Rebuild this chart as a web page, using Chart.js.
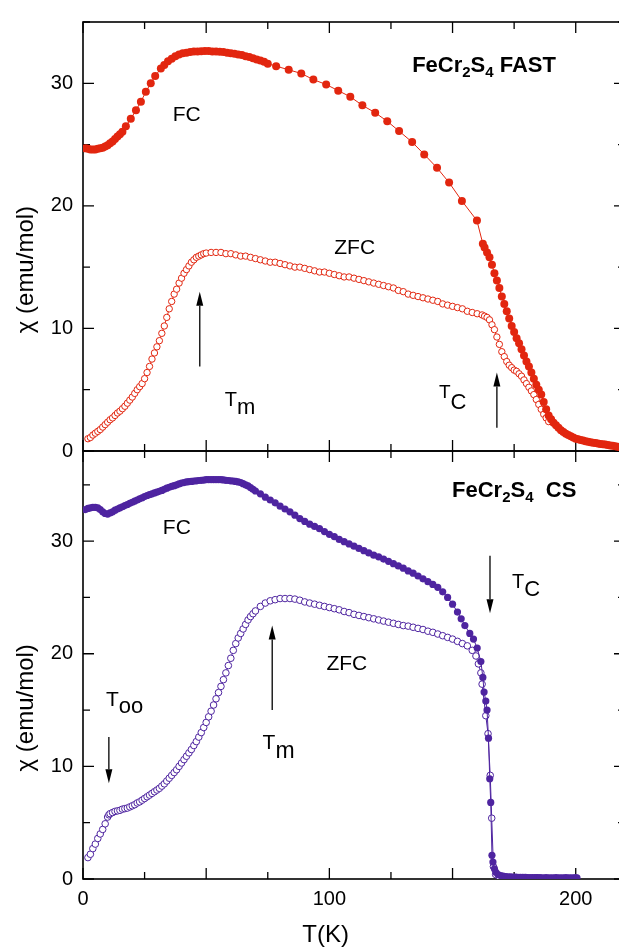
<!DOCTYPE html>
<html>
<head>
<meta charset="utf-8">
<script src="https://cdn.jsdelivr.net/npm/chart.js@4.4.1/dist/chart.umd.min.js"></script>
<style>
  html, body { margin: 0; padding: 0; background: #fff; overflow: hidden; }
  canvas { display: block; }
</style>
</head>
<body>
<canvas id="myChart" width="630" height="948"></canvas>
<script>
// tick labels
var xTickLabels = [0, 100, 200];
var yTickLabels = [0, 10, 20, 30];

// FeCr2S4 FAST, field cooled (filled)
var fastFcT = [1, 2, 3, 4, 5, 6, 7, 8, 9, 10, 11, 12, 13, 14, 15, 16, 17.4, 19.4, 21.5, 23.5, 25.5, 27.5, 29.3, 31.6,
  33, 34.5, 36, 37.5, 39, 40.5, 42, 43.5, 45, 46.5, 48, 49.5, 51, 52.5, 54, 55.5, 57, 58.5, 60, 61.5, 63, 64.5,
  66, 67.5, 69, 70.5, 72, 73.5, 75, 78.4, 83.5, 88.6, 93.5, 98.7, 103.6, 108.5, 113.4, 118.6, 123.5, 128.3,
  133.6, 138.5, 143.7, 148.6, 153.8, 159.9, 162.3, 163, 164, 165, 166, 167, 168, 169, 170, 171, 172, 173, 174,
  175, 176, 177, 178, 179, 180, 181, 182, 183, 184, 185, 186, 187, 188, 189, 190, 191, 192, 193, 194, 195, 196,
  197, 198, 199, 200, 201, 202, 203, 204, 205, 206, 207, 208, 209, 210, 211, 212, 213, 214, 215, 216, 217, 218];
var fastFcChi = [24.7, 24.65, 24.6, 24.6, 24.6, 24.65, 24.7, 24.75, 24.85, 24.95, 25.1, 25.25, 25.45, 25.65, 25.85,
  26.05, 26.5, 27.1, 27.8, 28.5, 29.3, 30.0, 30.6, 31.2, 31.5, 31.8, 32.0, 32.2, 32.35, 32.45, 32.5, 32.55, 32.6,
  32.6, 32.62, 32.63, 32.63, 32.6, 32.6, 32.58, 32.55, 32.5, 32.45, 32.4, 32.35, 32.3, 32.2, 32.15, 32.05, 31.95,
  31.85, 31.75, 31.6, 31.4, 31.1, 30.8, 30.3, 29.9, 29.4, 28.9, 28.2, 27.6, 26.9, 26.1, 25.2, 24.2, 23.1, 21.9,
  20.4, 18.8, 16.9, 16.6, 16.2, 15.8, 15.2, 14.5, 13.9, 13.3, 12.6, 12.0, 11.4, 10.8, 10.2, 9.7, 9.2, 8.8, 8.3,
  7.8, 7.3, 6.9, 6.4, 5.9, 5.4, 5.0, 4.6, 4.0, 3.4, 2.9, 2.6, 2.3, 2.1, 1.9, 1.7, 1.55, 1.4, 1.3, 1.2, 1.1, 1.0,
  0.95, 0.9, 0.85, 0.8, 0.75, 0.72, 0.68, 0.65, 0.62, 0.58, 0.55, 0.52, 0.48, 0.45, 0.42, 0.38, 0.35, 0.32];

// FeCr2S4 FAST, zero field cooled (open)
var fastZfcT = [2, 3, 4, 5, 6, 7, 8, 9, 10, 11, 12, 13, 14, 15, 16, 17, 18, 19, 20, 21, 22, 23, 24, 25, 26, 27, 28,
  29, 30, 31, 32, 33, 34, 35, 36, 37, 38, 39, 40, 41, 42, 43, 44, 45, 46, 47, 48, 49, 50, 52, 54, 56, 58, 60, 62,
  64, 66, 68, 70, 72, 74, 76, 78, 80, 82, 84, 86, 88, 90, 92, 94, 96, 98, 100, 102, 104, 106, 108, 110, 112, 114,
  116, 118, 120, 122, 124, 126, 128, 130, 132, 134, 136, 138, 140, 142, 144, 146, 148, 150, 152, 154, 156, 158,
  160, 162, 163, 164, 165, 166, 167, 168, 169, 170, 171, 172, 173, 174, 175, 176, 177, 178, 179, 180, 181, 182,
  183, 184, 185, 186, 187, 188, 189];
var fastZfcChi = [1.0, 1.1, 1.3, 1.45, 1.6, 1.75, 1.95, 2.15, 2.35, 2.55, 2.7, 2.9, 3.1, 3.25, 3.45, 3.65, 3.9, 4.15,
  4.4, 4.7, 5.0, 5.25, 5.5, 5.9, 6.4, 6.9, 7.5, 8.0, 8.5, 9.0, 9.6, 10.2, 10.9, 11.6, 12.2, 12.8, 13.2, 13.7,
  14.1, 14.5, 14.8, 15.1, 15.4, 15.6, 15.8, 15.9, 16.0, 16.1, 16.15, 16.2, 16.2, 16.2, 16.1, 16.1, 16.0, 15.9,
  15.9, 15.8, 15.7, 15.6, 15.5, 15.4, 15.4, 15.3, 15.2, 15.1, 15.0, 15.0, 14.9, 14.8, 14.7, 14.6, 14.6, 14.5,
  14.4, 14.3, 14.2, 14.2, 14.1, 14.0, 13.9, 13.8, 13.7, 13.6, 13.5, 13.4, 13.3, 13.1, 13.0, 12.8, 12.7, 12.6,
  12.5, 12.4, 12.3, 12.2, 12.0, 11.9, 11.8, 11.7, 11.6, 11.4, 11.3, 11.2, 11.1, 11.0, 10.9, 10.7, 10.3, 9.9,
  9.3, 8.7, 8.1, 7.7, 7.3, 7.0, 6.8, 6.6, 6.5, 6.3, 6.1, 5.8, 5.5, 5.2, 4.9, 4.6, 4.2, 3.8, 3.4, 3.0, 2.7, 2.4];

// FeCr2S4 CS, field cooled (filled)
var csFcT = [1, 2, 3, 4, 5, 6, 7, 8, 9, 10, 11, 12, 13, 14, 15, 16, 17, 18, 19, 20, 21, 22, 23, 24, 25, 26, 27, 28,
  29, 30, 31, 32, 33, 34, 35, 36, 37, 38, 39, 40, 41, 42, 43, 44, 45, 46, 47, 48, 49, 50, 51, 52, 53, 54, 55, 56,
  57, 58, 59, 60, 61, 62, 63, 64, 65, 66, 67, 68, 69, 70, 72, 74, 76, 78, 80, 82, 84, 86, 88, 90, 92, 94, 96, 98,
  100, 102, 104, 106, 108, 110, 112, 114, 116, 118, 120, 122, 124, 126, 128, 130, 132, 134, 136, 138, 140, 142,
  144, 146, 148, 150, 152, 153.5, 155, 157, 158.5, 160, 161.5, 162.3, 162.8, 163.5, 164, 164.6, 165.1, 165.5,
  166, 166.4, 167, 167.6, 168.5, 169.5, 170.5, 171.5, 172.5, 173.5, 174.5, 175.5, 176.5, 177.5, 178.5, 179.5,
  180.5, 181.5, 182.5, 183.5, 184.5, 185.5, 186.5, 187.5, 188.5, 189.5, 190.5, 191.5, 192.5, 193.5, 194.5,
  195.5, 196.5, 197.5, 198.5, 199.5, 200.5];
var csFcChi = [32.8, 32.9, 32.95, 33.0, 33.0, 32.95, 32.8, 32.6, 32.45, 32.4, 32.5, 32.6, 32.75, 32.85, 32.95, 33.05,
  33.15, 33.25, 33.35, 33.45, 33.55, 33.65, 33.75, 33.85, 33.95, 34.05, 34.12, 34.2, 34.28, 34.35, 34.42, 34.5,
  34.6, 34.7, 34.78, 34.85, 34.92, 35.0, 35.08, 35.15, 35.2, 35.25, 35.28, 35.3, 35.33, 35.35, 35.38, 35.4,
  35.42, 35.45, 35.45, 35.45, 35.45, 35.45, 35.45, 35.45, 35.43, 35.4, 35.38, 35.35, 35.33, 35.3, 35.25, 35.2,
  35.1, 35.0, 34.9, 34.75, 34.6, 34.45, 34.2, 33.9, 33.65, 33.4, 33.1, 32.85, 32.6, 32.3, 32.0, 31.75, 31.5,
  31.3, 31.1, 30.85, 30.6, 30.4, 30.15, 29.95, 29.75, 29.55, 29.35, 29.15, 28.95, 28.75, 28.6, 28.4, 28.2, 28.0,
  27.8, 27.6, 27.35, 27.15, 26.9, 26.65, 26.4, 26.15, 25.9, 25.5, 25.0, 24.4, 23.7, 23.1, 22.5, 21.8, 21.3,
  20.5, 19.3, 17.9, 16.6, 15.8, 15.0, 12.5, 8.9, 6.8, 2.1, 1.5, 0.9, 0.6, 0.4, 0.3, 0.25, 0.22, 0.2, 0.18, 0.17,
  0.16, 0.15, 0.15, 0.14, 0.14, 0.13, 0.13, 0.12, 0.12, 0.12, 0.12, 0.11, 0.11, 0.11, 0.11, 0.1, 0.1, 0.1, 0.1,
  0.1, 0.1, 0.1, 0.1, 0.1, 0.1, 0.1];

// FeCr2S4 CS, zero field cooled (open)
var csZfcT = [2, 3, 4, 5, 6, 7, 8, 9, 10, 10.5, 11, 12, 13, 14, 15, 16, 17, 18, 19, 20, 21, 22, 23, 24, 25, 26, 27,
  28, 29, 30, 31, 32, 33, 34, 35, 36, 37, 38, 39, 40, 41, 42, 43, 44, 45, 46, 47, 48, 49, 50, 51, 52, 53, 54, 55,
  56, 57, 58, 59, 60, 61, 62, 63, 64, 65, 66, 67, 68, 69, 70, 72, 74, 76, 78, 80, 82, 84, 86, 88, 90, 92, 94, 96,
  98, 100, 102, 104, 106, 108, 110, 112, 114, 116, 118, 120, 122, 124, 126, 128, 130, 132, 134, 136, 138, 140,
  142, 144, 146, 148, 150, 152, 154, 156, 158, 159.5, 160.5, 161.5, 162, 163.5, 164.4, 165.3, 165.9, 166.6,
  167.5, 169, 172, 176, 180, 184, 188, 192, 196, 200];
var csZfcChi = [1.9, 2.2, 2.7, 3.1, 3.6, 4.0, 4.4, 4.9, 5.5, 5.7, 5.8, 5.9, 6.0, 6.05, 6.1, 6.2, 6.25, 6.3, 6.4, 6.5,
  6.6, 6.75, 6.85, 7.0, 7.15, 7.3, 7.45, 7.6, 7.75, 7.9, 8.05, 8.25, 8.45, 8.7, 8.95, 9.2, 9.45, 9.7, 10.0, 10.3,
  10.6, 10.9, 11.2, 11.5, 11.85, 12.2, 12.6, 13.0, 13.45, 13.9, 14.4, 14.9, 15.45, 16.0, 16.55, 17.1, 17.7,
  18.3, 18.95, 19.6, 20.3, 20.9, 21.4, 21.8, 22.2, 22.6, 23.0, 23.3, 23.55, 23.8, 24.2, 24.5, 24.7, 24.8, 24.9,
  24.9, 24.9, 24.85, 24.75, 24.6, 24.5, 24.4, 24.3, 24.2, 24.1, 24.0, 23.9, 23.75, 23.65, 23.5, 23.4, 23.3,
  23.2, 23.1, 23.0, 22.9, 22.8, 22.7, 22.6, 22.5, 22.45, 22.35, 22.25, 22.15, 22.0, 21.9, 21.75, 21.6, 21.45,
  21.3, 21.1, 20.9, 20.7, 20.3, 19.8, 19.1, 18.3, 17.3, 14.5, 12.9, 9.2, 5.4, 1.1, 0.4, 0.2, 0.15, 0.12, 0.11,
  0.1, 0.1, 0.1, 0.1, 0.1];

var red = '#e2260f';
var purple = '#4e24a0';
var FONT = '"Liberation Sans", Arial, Helvetica, sans-serif';

function pts(ts, vs) {
  return ts.map(function (t, i) { return {x: t, y: vs[i]}; });
}

// text notes and arrows, in data units of each panel
var notes = [
  {axis: 'yTop', x: 36.4, y: 26.9, parts: [['FC', 21, 0]]},
  {axis: 'yTop', x: 102.0, y: 16.05, parts: [['ZFC', 21, 0]]},
  {axis: 'yTop', x: 133.6, y: 30.9, parts: [['FeCr', 22, 0, 1], ['2', 15, 5, 1], ['S', 22, 0, 1], ['4', 15, 5, 1], [' FAST', 22, 0, 1]]},
  {axis: 'yTop', x: 57.5, y: 3.7, parts: [['T', 20, 0], ['m', 22, 8]]},
  {axis: 'yTop', x: 144.5, y: 4.3, parts: [['T', 19, 0], ['C', 22, 11]]},
  {axis: 'yBot', x: 149.8, y: 33.95, parts: [['FeCr', 22, 0, 1], ['2', 15, 5, 1], ['S', 22, 0, 1], ['4', 15, 5, 1], ['  CS', 22, 0, 1]]},
  {axis: 'yBot', x: 32.4, y: 30.6, parts: [['FC', 21, 0]]},
  {axis: 'yBot', x: 98.8, y: 18.6, parts: [['ZFC', 21, 0]]},
  {axis: 'yBot', x: 174.1, y: 25.8, parts: [['T', 20, 0], ['C', 22, 8]]},
  {axis: 'yBot', x: 72.9, y: 11.5, parts: [['T', 21, 0], ['m', 23, 9]]},
  {axis: 'yBot', x: 9.3, y: 15.4, parts: [['T', 21, 0], ['oo', 22, 7]]}
];
var arrows = [
  {axis: 'yTop', x: 47.4, from: 6.9, to: 13.0},
  {axis: 'yTop', x: 168.0, from: 1.9, to: 6.4},
  {axis: 'yBot', x: 165.2, from: 28.7, to: 23.6},
  {axis: 'yBot', x: 76.8, from: 15.0, to: 22.5},
  {axis: 'yBot', x: 10.5, from: 12.6, to: 8.5}
];

var framePlugin = {
  id: 'frame',
  beforeDatasetsDraw: function (chart) {
    var ctx = chart.ctx, a = chart.chartArea, sx = chart.scales.x;
    ctx.save();
    ctx.strokeStyle = '#000';
    ['yTop', 'yBot'].forEach(function (id) {
      var ys = chart.scales[id];
      ctx.lineWidth = 1.6;
      ctx.strokeRect(a.left, ys.top, a.right - a.left, ys.bottom - ys.top);
      ctx.lineWidth = 1.3;
      ctx.beginPath();
      for (var v = 0; v <= sx.max; v += 25) {
        var px = sx.getPixelForValue(v), len = (v % 50 === 0) ? 11 : 7;
        ctx.moveTo(px, ys.top); ctx.lineTo(px, ys.top + len);
        ctx.moveTo(px, ys.bottom); ctx.lineTo(px, ys.bottom - len);
      }
      for (var w = 0; w <= ys.max; w += 5) {
        var py = ys.getPixelForValue(w), l2 = (w % 10 === 0) ? 11 : 7;
        ctx.moveTo(a.left, py); ctx.lineTo(a.left + l2, py);
        ctx.moveTo(a.right, py); ctx.lineTo(a.right - l2, py);
      }
      ctx.stroke();
    });
    ctx.restore();
  },
  afterDatasetsDraw: function (chart) {
    var ctx = chart.ctx, sx = chart.scales.x;
    ctx.save();
    ctx.fillStyle = '#000';
    ctx.strokeStyle = '#000';
    ctx.textBaseline = 'alphabetic';
    ctx.textAlign = 'left';
    notes.forEach(function (n) {
      var px = sx.getPixelForValue(n.x), py = chart.scales[n.axis].getPixelForValue(n.y);
      n.parts.forEach(function (p) {
        ctx.font = (p[3] ? 'bold ' : '') + p[1] + 'px ' + FONT;
        ctx.fillText(p[0], px, py + p[2]);
        px += ctx.measureText(p[0]).width;
      });
    });
    arrows.forEach(function (ar) {
      var ys = chart.scales[ar.axis];
      var px = sx.getPixelForValue(ar.x), y0 = ys.getPixelForValue(ar.from), y1 = ys.getPixelForValue(ar.to);
      var dir = y1 < y0 ? 1 : -1, head = 14;
      ctx.lineWidth = 1.3;
      ctx.beginPath();
      ctx.moveTo(px, y0); ctx.lineTo(px, y1 + dir * head);
      ctx.stroke();
      ctx.beginPath();
      ctx.moveTo(px, y1);
      ctx.lineTo(px - 3.5, y1 + dir * head);
      ctx.lineTo(px + 3.5, y1 + dir * head);
      ctx.closePath();
      ctx.fill();
    });
    // axis titles
    ctx.font = '24px ' + FONT;
    ctx.textAlign = 'center';
    ctx.textBaseline = 'middle';
    [['yTop', 14.8], ['yBot', 15.2]].forEach(function (t) {
      ctx.save();
      ctx.translate(26, chart.scales[t[0]].getPixelForValue(t[1]));
      ctx.rotate(-Math.PI / 2);
      ctx.fillText('\u03c7 (emu/mol)', 0, 0);
      ctx.restore();
    });
    ctx.textBaseline = 'alphabetic';
    ctx.fillText('T(K)', sx.getPixelForValue(98.5), 942);
    ctx.restore();
  }
};

function yAxis(max, weight) {
  return {
    type: 'linear', position: 'left', stack: 'panels', stackWeight: weight,
    min: 0, max: max,
    grid: {display: false, drawTicks: false},
    border: {display: false},
    ticks: {color: '#000', padding: 10, font: {family: FONT, size: 20}},
    afterBuildTicks: function (s) { s.ticks = yTickLabels.map(function (v) { return {value: v}; }); },
    afterFit: function (s) { s.width = 83; }
  };
}

var ctx = document.getElementById('myChart');
var myChart = new Chart(ctx, {
  type: 'scatter',
  data: {
    datasets: [
      {label: 'FAST FC', yAxisID: 'yTop', data: pts(fastFcT, fastFcChi), showLine: true,
        borderColor: red, borderWidth: 1, pointRadius: 4, pointBackgroundColor: red, pointBorderColor: red, pointBorderWidth: 0},
      {label: 'FAST ZFC', yAxisID: 'yTop', data: pts(fastZfcT, fastZfcChi), showLine: true,
        borderColor: red, borderWidth: 1, pointRadius: 3.2, pointBackgroundColor: '#fff', pointBorderColor: red, pointBorderWidth: 1},
      {label: 'CS FC', yAxisID: 'yBot', data: pts(csFcT, csFcChi), showLine: true,
        borderColor: purple, borderWidth: 1, pointRadius: 3.6, pointBackgroundColor: purple, pointBorderColor: purple, pointBorderWidth: 0},
      {label: 'CS ZFC', yAxisID: 'yBot', data: pts(csZfcT, csZfcChi), showLine: true,
        borderColor: purple, borderWidth: 1, pointRadius: 3.3, pointBackgroundColor: '#fff', pointBorderColor: purple, pointBorderWidth: 1}
    ]
  },
  options: {
    responsive: false,
    animation: false,
    devicePixelRatio: 1,
    events: [],
    layout: {padding: {top: 12, right: 4, left: 0, bottom: 0}},
    plugins: {legend: {display: false}, tooltip: {enabled: false}},
    scales: {
      x: {
        type: 'linear', min: 0, max: 220,
        grid: {display: false, drawTicks: false},
        border: {display: false},
        ticks: {color: '#000', padding: 8, font: {family: FONT, size: 20}},
        afterBuildTicks: function (s) { s.ticks = xTickLabels.map(function (v) { return {value: v}; }); },
        afterFit: function (s) { s.height = 69; }
      },
      yBot: yAxis(38, 433),
      yTop: yAxis(35, 434)
    }
  },
  plugins: [framePlugin]
});
</script>
</body>
</html>
